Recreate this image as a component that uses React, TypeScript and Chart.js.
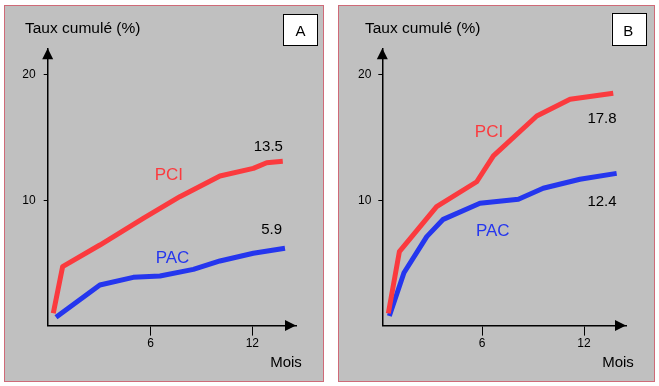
import React, { useEffect, useRef } from "react";
import { Chart, registerables } from "chart.js";

Chart.register(...registerables);

// ---- data ----
const xTickValues = [6, 12];
const yTickValues = [10, 20];

const monthsPciA = [0.25, 0.8, 3.0, 5.56, 7.72, 10.09, 12.06, 12.85, 13.8];
const pciA = [0.98, 4.7, 6.43, 8.56, 10.29, 11.94, 12.55, 13.0, 13.11];
const monthsPacA = [0.41, 3.0, 4.97, 6.55, 8.52, 10.09, 12.06, 13.93];
const pacA = [0.66, 3.24, 3.85, 3.96, 4.49, 5.16, 5.77, 6.17];

const monthsPciB = [0.49, 1.14, 3.33, 5.69, 6.67, 9.22, 11.18, 13.72];
const pciB = [0.98, 5.9, 9.49, 11.48, 13.54, 16.73, 18.06, 18.54];
const monthsPacB = [0.55, 1.41, 2.75, 3.72, 5.88, 8.14, 9.6, 11.76, 13.92];
const pacB = [0.77, 4.22, 7.1, 8.48, 9.76, 10.08, 10.96, 11.68, 12.15];

const seriesNames = ["PCI", "PAC"];
const endValuesA = ["13.5", "5.9"];
const endValuesB = ["17.8", "12.4"];
const panelLetters = ["A", "B"];
const yTitle = "Taux cumulé (%)";
const xTitle = "Mois";

// ---- styles ----
const FONT = "'Liberation Sans', Arial, sans-serif";
const RED = "#fb3a3e";
const BLUE = "#2536ee";
const BG = "#c0c0c0";
const PANEL_BORDER = "#cf6a78";

const zip = (xs: number[], ys: number[]) => xs.map((x, i) => ({ x, y: ys[i] }));

type TextItem = { text: string; x: number; y: number; size: number; color: string; align: CanvasTextAlign };

type PanelCfg = {
  left: number;
  top: number;
  width: number;
  height: number;
  area: { left: number; top: number; right: number; bottom: number };
  xMin: number;
  xMax: number;
  yMax: number;
  yTickPad: number;
  pci: { x: number; y: number }[];
  pac: { x: number; y: number }[];
  box: { x: number; y: number; w: number; h: number };
  texts: TextItem[];
};

const panels: PanelCfg[] = [
  {
    left: 4,
    top: 5,
    width: 320,
    height: 377,
    area: { left: 43.7, top: 43.3, right: 292, bottom: 320.6 },
    xMin: -0.08,
    xMax: 14.58,
    yMax: 22.13,
    yTickPad: 8,
    pci: zip(monthsPciA, pciA),
    pac: zip(monthsPacA, pacA),
    box: { x: 279.3, y: 9.3, w: 34.4, h: 30.7 },
    texts: [
      { text: yTitle, x: 21, y: 28.3, size: 15.5, color: "#000", align: "left" },
      { text: panelLetters[0], x: 296.5, y: 30.7, size: 15, color: "#000", align: "center" },
      { text: seriesNames[0], x: 164.8, y: 175, size: 17, color: RED, align: "center" },
      { text: seriesNames[1], x: 168.5, y: 258.3, size: 17, color: BLUE, align: "center" },
      { text: endValuesA[0], x: 264.3, y: 145.7, size: 15, color: "#000", align: "center" },
      { text: endValuesA[1], x: 267.7, y: 229, size: 15, color: "#000", align: "center" },
      { text: xTitle, x: 282, y: 361.7, size: 15, color: "#000", align: "center" },
    ],
  },
  {
    left: 338,
    top: 5,
    width: 317,
    height: 377,
    area: { left: 44.3, top: 43.3, right: 288, bottom: 320.6 },
    xMin: 0.135,
    xMax: 14.47,
    yMax: 22.13,
    yTickPad: 7,
    pci: zip(monthsPciB, pciB),
    pac: zip(monthsPacB, pacB),
    box: { x: 273.7, y: 8.3, w: 34.3, h: 31.7 },
    texts: [
      { text: yTitle, x: 27, y: 28.3, size: 15.5, color: "#000", align: "left" },
      { text: panelLetters[1], x: 290.3, y: 31, size: 15, color: "#000", align: "center" },
      { text: seriesNames[0], x: 151, y: 132.3, size: 17, color: RED, align: "center" },
      { text: seriesNames[1], x: 154.8, y: 230.7, size: 17, color: BLUE, align: "center" },
      { text: endValuesB[0], x: 264, y: 117.7, size: 15, color: "#000", align: "center" },
      { text: endValuesB[1], x: 264, y: 201, size: 15, color: "#000", align: "center" },
      { text: xTitle, x: 280, y: 362.3, size: 15, color: "#000", align: "center" },
    ],
  },
];

const decorPlugin = {
  id: "panelDecor",
  afterDraw(chart: any, _args: any, opts: any) {
    const ctx: CanvasRenderingContext2D = chart.ctx;
    const { left, right, top, bottom } = chart.chartArea;
    ctx.save();
    ctx.fillStyle = "#000";
    // y-axis arrow
    ctx.beginPath();
    ctx.moveTo(left, top);
    ctx.lineTo(left - 5.5, top + 11);
    ctx.lineTo(left + 5.5, top + 11);
    ctx.closePath();
    ctx.fill();
    // x-axis arrow
    ctx.beginPath();
    ctx.moveTo(right, bottom);
    ctx.lineTo(right - 11, bottom - 5.5);
    ctx.lineTo(right - 11, bottom + 5.5);
    ctx.closePath();
    ctx.fill();
    // letter box
    const b = opts.box;
    ctx.fillStyle = "#fff";
    ctx.fillRect(b.x, b.y, b.w, b.h);
    ctx.strokeStyle = "#000";
    ctx.lineWidth = 1;
    ctx.strokeRect(Math.round(b.x) + 0.5, Math.round(b.y) + 0.5, Math.round(b.w), Math.round(b.h));
    // texts
    ctx.textBaseline = "alphabetic";
    for (const t of opts.texts as TextItem[]) {
      ctx.font = `${t.size}px ${FONT}`;
      ctx.fillStyle = t.color;
      ctx.textAlign = t.align;
      ctx.fillText(t.text, t.x, t.y);
    }
    ctx.restore();
  },
};

function Panel({ cfg }: { cfg: PanelCfg }) {
  const ref = useRef<HTMLCanvasElement | null>(null);
  useEffect(() => {
    if (!ref.current) return;
    const X_AXIS_H = 40;
    const chart = new Chart(ref.current, {
      type: "line",
      data: {
        datasets: [
          {
            label: seriesNames[0],
            data: cfg.pci,
            borderColor: RED,
            borderWidth: 5,
            pointRadius: 0,
            tension: 0,
            borderJoinStyle: "round",
            fill: false,
          },
          {
            label: seriesNames[1],
            data: cfg.pac,
            borderColor: BLUE,
            borderWidth: 5,
            pointRadius: 0,
            tension: 0,
            borderJoinStyle: "round",
            fill: false,
          },
        ],
      },
      options: {
        animation: false,
        responsive: false,
        devicePixelRatio: 1,
        layout: {
          padding: {
            left: 0,
            top: cfg.area.top,
            right: cfg.width - cfg.area.right,
            bottom: cfg.height - cfg.area.bottom - X_AXIS_H,
          },
        },
        plugins: {
          legend: { display: false },
          tooltip: { enabled: false },
          title: { display: false },
          panelDecor: { box: cfg.box, texts: cfg.texts },
        } as any,
        scales: {
          x: {
            type: "linear",
            min: cfg.xMin,
            max: cfg.xMax,
            afterFit: (s: any) => {
              s.height = X_AXIS_H;
            },
            afterBuildTicks: (s: any) => {
              s.ticks = xTickValues.map((v) => ({ value: v }));
            },
            ticks: { color: "#000", font: { family: FONT, size: 12 }, padding: 1, maxRotation: 0, autoSkip: false },
            grid: { display: true, drawOnChartArea: false, drawTicks: true, tickLength: 10, color: "#000", lineWidth: 1 },
            border: { display: true, color: "#000", width: 1.5 },
          },
          y: {
            type: "linear",
            min: 0,
            max: cfg.yMax,
            afterFit: (s: any) => {
              s.width = cfg.area.left;
            },
            afterBuildTicks: (s: any) => {
              s.ticks = yTickValues.map((v) => ({ value: v }));
            },
            ticks: { color: "#000", font: { family: FONT, size: 12 }, padding: cfg.yTickPad, autoSkip: false },
            grid: { display: true, drawOnChartArea: false, drawTicks: true, tickLength: 4, color: "#000", lineWidth: 1 },
            border: { display: true, color: "#000", width: 1.5 },
          },
        } as any,
      },
      plugins: [decorPlugin as any],
    });
    return () => chart.destroy();
  }, [cfg]);

  return (
    <div
      style={{
        position: "absolute",
        left: cfg.left,
        top: cfg.top,
        width: cfg.width,
        height: cfg.height,
        boxSizing: "border-box",
        border: `1px solid ${PANEL_BORDER}`,
        background: BG,
      }}
    >
      <canvas
        ref={ref}
        width={cfg.width}
        height={cfg.height}
        style={{ position: "absolute", left: -1, top: -1, width: cfg.width, height: cfg.height }}
      />
    </div>
  );
}

export default function App() {
  return (
    <div style={{ position: "absolute", left: 0, top: 0, width: 659, height: 386, background: "#fff", overflow: "hidden" }}>
      {panels.map((p, i) => (
        <Panel key={i} cfg={p} />
      ))}
    </div>
  );
}
